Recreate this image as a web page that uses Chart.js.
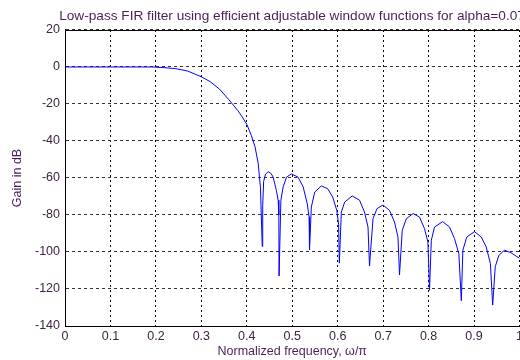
<!DOCTYPE html>
<html lang="en">
<head>
<meta charset="UTF-8">
<title>Low-pass FIR filter</title>
<script src="https://cdn.jsdelivr.net/npm/chart.js"></script>
<style>
    html, body { margin: 0; padding: 0; background: #fff; overflow: hidden; }
    .grafico { position: relative; width: 584px; height: 360px; }
</style>
</head>
<body>
<div class="grafico">
    <canvas id="grafico"></canvas>
</div>
<script>
    // dados (frequencia normalizada, ganho em dB)
    const freq = [0, 0.05, 0.1, 0.15, 0.19, 0.2, 0.22, 0.244, 0.27, 0.3, 0.32, 0.34, 0.36, 0.38, 0.39, 0.4, 0.41, 0.418, 0.425, 0.43, 0.434,
        0.435, 0.437, 0.441, 0.447, 0.453, 0.458, 0.465, 0.469, 0.4705, 0.471,
        0.475, 0.48, 0.4875, 0.498, 0.5128, 0.524, 0.533, 0.537, 0.538,
        0.542, 0.5495, 0.564, 0.578, 0.589, 0.598, 0.602, 0.6036,
        0.608, 0.6154, 0.632, 0.648, 0.659, 0.6667, 0.67,
        0.6777, 0.6864, 0.6996, 0.714, 0.725, 0.7326, 0.736,
        0.742, 0.751, 0.766, 0.78, 0.791, 0.7985, 0.802,
        0.806, 0.813, 0.831, 0.846, 0.857, 0.8666, 0.872,
        0.8754, 0.884, 0.901, 0.9158, 0.9268, 0.936, 0.941,
        0.9466, 0.9546, 0.967, 0.9818, 1.0];
    const ganho = [0, 0, 0, 0, 0, -0.1, -0.4, -0.9, -2.2, -5.3, -8, -12, -17.5, -23.5, -27, -31, -37, -43, -52, -65, -97,
        -75, -62, -58, -56.6, -57.5, -59.5, -66.7, -72, -80, -113,
        -72, -64.8, -59.5, -57.8, -59.5, -64.8, -73.9, -81, -98.7,
        -75.7, -67.6, -64.3, -65.8, -70.3, -77.5, -85, -106,
        -78.4, -73, -69.7, -72, -78.4, -86.5, -107.6,
        -82, -76.6, -74.6, -77.5, -83.8, -91.9, -112.4,
        -88.3, -82, -79.2, -81.1, -87.4, -94.6, -120.7,
        -93.7, -86.5, -83.6, -86.5, -92.8, -100.9, -126.3,
        -99, -91.9, -89, -91.9, -97.3, -106.3, -128.7,
        -108, -101.8, -99, -100.5, -103.4];

    // rotulos dos eixos
    const xTicks = ['0', '0.1', '0.2', '0.3', '0.4', '0.5', '0.6', '0.7', '0.8', '0.9', '1'];
    const yTicks = ['-140', '-120', '-100', '-80', '-60', '-40', '-20', '0', '20'];

    const corTexto = '#3d2440';
    const fonte = 'Liberation Sans, Arial, sans-serif';

    let pontos = [];
    for (let i = 0; i < freq.length; i++) {
        pontos.push({ x: freq[i], y: ganho[i] });
    }

    // moldura solida do eixo (box on)
    const moldura = {
        id: 'moldura',
        afterDatasetsDraw(chart) {
            const a = chart.chartArea;
            const ctx = chart.ctx;
            ctx.save();
            ctx.strokeStyle = '#000';
            ctx.lineWidth = 1;
            ctx.setLineDash([]);
            ctx.beginPath();
            ctx.moveTo(a.right + 0.5, a.top + 0.5);
            ctx.lineTo(a.left + 0.5, a.top + 0.5);
            ctx.lineTo(a.left + 0.5, a.bottom + 0.5);
            ctx.lineTo(a.right + 0.5, a.bottom + 0.5);
            ctx.stroke();
            ctx.restore();
        }
    };

    const config = {
        type: 'line',
        data: {
            datasets: [{
                label: 'Ganho',
                data: pontos,
                borderColor: 'rgb(0, 0, 255)',
                borderWidth: 1,
                pointRadius: 0,
                tension: 0,
                fill: false
            }]
        },
        options: {
            responsive: true,
            maintainAspectRatio: false,
            animation: false,
            devicePixelRatio: 1,
            layout: { padding: 0 },
            plugins: {
                legend: { display: false },
                tooltip: { enabled: false },
                title: {
                    display: true,
                    text: 'Low-pass FIR filter using efficient adjustable window functions for alpha=0.07',
                    color: '#4a1f55',
                    font: { family: fonte, size: 13.65, weight: 'normal' },
                    padding: { top: 8, bottom: 5.6 }
                }
            },
            scales: {
                x: {
                    type: 'linear',
                    min: 0,
                    max: 1,
                    ticks: {
                        stepSize: 0.1,
                        color: corTexto,
                        font: { family: fonte, size: 12.5 },
                        padding: 3,
                        maxRotation: 0,
                        callback: function (v) { return xTicks[Math.round(v * 10)]; }
                    },
                    grid: { color: '#000', lineWidth: 1, drawTicks: false },
                    border: { display: true, color: '#000', dash: [2, 3] },
                    title: {
                        display: true,
                        text: 'Normalized frequency, \u03c9/\u03c0',
                        color: '#4a1f55',
                        font: { family: fonte, size: 12.5 },
                        padding: { top: 0, bottom: 1 }
                    },
                    afterFit(s) { s.height = 34; }
                },
                y: {
                    min: -140,
                    max: 20,
                    ticks: {
                        stepSize: 20,
                        color: corTexto,
                        font: { family: fonte, size: 12.5 },
                        padding: 5,
                        callback: function (v) { return yTicks[Math.round((v + 140) / 20)]; }
                    },
                    grid: { color: '#333', lineWidth: 1, drawTicks: false },
                    border: { display: true, color: '#000', dash: [3, 3] },
                    title: {
                        display: true,
                        text: 'Gain in dB',
                        color: '#4a1f55',
                        font: { family: fonte, size: 12.5 },
                        padding: { top: 10, bottom: 0 }
                    },
                    afterFit(s) { s.width = 65; }
                },
                // eixo vazio a direita so para deixar a area igual ao original
                yDir: {
                    position: 'right',
                    display: true,
                    ticks: { display: false },
                    grid: { display: false, drawTicks: false },
                    border: { display: false },
                    afterFit(s) { s.width = 64.5; }
                }
            }
        },
        plugins: [moldura]
    };

    let grafico = new Chart(document.getElementById('grafico'), config);
</script>
</body>
</html>
